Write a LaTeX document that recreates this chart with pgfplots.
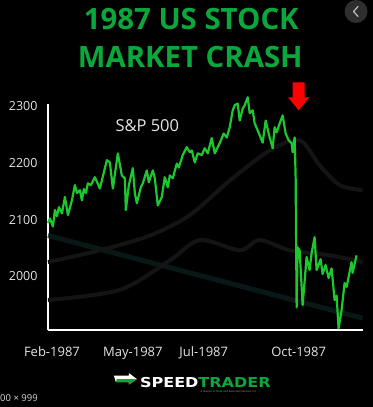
\documentclass[border=0pt]{standalone}
\usepackage{fontspec}
\setmainfont{Open Sans}
\newfontfamily\logofont{DejaVu Sans}
\usepackage{pgfplots}
\pgfplotsset{compat=1.18}
\definecolor{linegreen}{RGB}{28,200,45}
\definecolor{titlegreen}{RGB}{10,168,60}
\definecolor{ticktext}{RGB}{228,228,228}
\definecolor{bgteal}{RGB}{12,30,29}
\definecolor{bggray}{RGB}{20,20,20}
\begin{document}
\begin{tikzpicture}[x=1pt,y=1pt]
\fill[black] (0,0) rectangle (373,407);
% top-right button
\fill[black!82!white] (356.5,396) circle (11.5);
\draw[black!25!white, line width=1.2pt, line cap=round, line join=round] (358.5,401) -- (354,396) -- (358.5,391);
% title
\node[anchor=base, inner sep=0, text=titlegreen, font=\fontsize{29.4}{32}\selectfont\bfseries] at (191.5,378) {1987 US STOCK};
\node[anchor=base, inner sep=0, text=titlegreen, font=\fontsize{29.4}{32}\selectfont\bfseries] at (190.5,340) {MARKET CRASH};
\begin{axis}[
  at={(48pt,77pt)}, anchor=south west,
  scale only axis, width=315pt, height=226pt,
  xmin=48, xmax=363, ymin=1905, ymax=2303.5,
  axis x line=bottom, axis y line=left,
  axis line style={-, white, line width=2pt},
  clip=false,
  major tick length=0pt,
  ytick={2000,2100,2200,2300},
  xtick={52,133,204,299},
  xticklabels={Feb-1987,May-1987,Jul-1987,Oct-1987},
  /pgf/number format/assume math mode=true,
  /pgf/number format/1000 sep={},
  yticklabel style={text=ticktext, font=\fontsize{12.5}{14}\selectfont, xshift=-7pt},
  xticklabel style={text=ticktext, font=\fontsize{13}{14}\selectfont, yshift=-13pt},
]
\addplot[bgteal, line width=5pt, opacity=0.8] coordinates {(48,2072) (363,1926)};
\addplot[bggray, line width=4pt, smooth] coordinates {(48,2025) (100,2046) (150,2072) (190,2108) (230,2169) (270,2222) (300,2240) (320,2196) (340,2161) (363,2152)};
\addplot[bggray, line width=4pt, smooth] coordinates {(48,1958) (120,1976) (170,2028) (200,2064) (240,2046) (260,2064) (290,2046) (330,2037) (363,2025)};
\addplot[linegreen, line width=2.2pt, line join=round] coordinates {
(48,2094)(50,2102)(53,2088)(55,2117)(57,2106)(59,2122)(62,2111)(65,2140)(68,2108)(72,2134)
(75,2161)(77,2147)(80,2152)(82,2134)(84,2154)(86,2147)(88,2164)(91,2161)(95,2175)(100,2155)
(107,2205)(110,2201)(113,2155)(118,2217)(122,2178)(125,2173)(126,2117)(129,2161)(133,2191)(135,2147)
(137,2129)(141,2157)(143,2164)(147,2187)(149,2166)(153,2187)(155,2173)(158,2125)(162,2140)(165,2175)
(168,2157)(170,2178)(173,2173)(177,2199)(179,2192)(183,2214)(187,2228)(190,2219)(192,2222)(195,2201)
(198,2217)(202,2214)(205,2226)(208,2217)(212,2244)(215,2217)(220,2235)(224,2252)(227,2245)(230,2263)
(233,2293)(235,2302)(238,2305)(240,2275)(243,2296)(245,2302)(248,2316)(250,2288)(253,2293)(255,2270)
(260,2249)(263,2236)(266,2275)(269,2252)(273,2226)(275,2263)(277,2254)(280,2270)(283,2284)(286,2252)
(289,2240)(292,2235)(293,2219)(295,2245)(296,2175)(297,1945)(298,2051)(300,2046)(303,1949)(307,2034)
(310,2011)(312,2041)(315,2069)(317,2011)(321,2030)(323,2004)(326,2020)(329,1997)(332,2014)(335,1958)
(337,1966)(339,1908)(342,1940)(345,1988)(347,1981)(352,2025)(353,2006)(357,2037)
};
\end{axis}
% S&P label
\node[text=ticktext, font=\fontsize{16.5}{18}\selectfont] at (147.5,282) {S\&P 500};
% red arrow
\fill[red] (293,325) -- (305,325) -- (305,310) -- (309.5,310) -- (299,297) -- (288.5,310) -- (293,310) -- cycle;
% logo
\fill[white] (114,31.5) -- (129,31.5) -- (129,34) -- (137,28) -- (129,22.5) -- (129,25) -- (116,25) -- cycle;
\fill[titlegreen] (116,25) -- (129,25) -- (129,22.5) -- (137,28) -- (117,28) -- cycle;
\node[anchor=base west, inner sep=0, font=\logofont\bfseries\fontsize{13.7}{14}\selectfont, xscale=1.17] at (140,20) {\textcolor{white}{SPEED}\textcolor{titlegreen}{TRADER}};
\node[anchor=base, inner sep=0, text=black!35!white, font=\fontsize{2.6}{3}\selectfont] at (229,15) {A division of Stock USA Execution Services, Inc.};
\node[anchor=west, inner sep=0, text=black!15!white, font=\fontsize{9.5}{11}\selectfont] at (0,9) {00 × 999};
\end{tikzpicture}
\end{document}
